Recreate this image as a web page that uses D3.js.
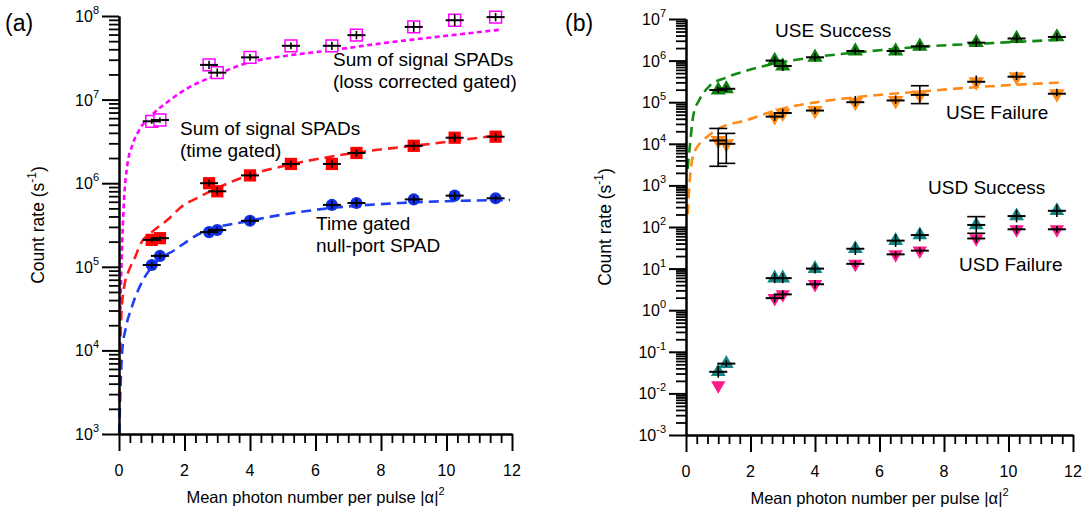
<!DOCTYPE html>
<html><head><meta charset="utf-8">
<script src="https://cdn.jsdelivr.net/npm/d3@7"></script>
<style>
body{margin:0;background:#fff}
svg{display:block}
text{font-family:"Liberation Sans",Arial,Helvetica,sans-serif;fill:#000}
</style>
</head><body>
<svg id="c" width="1088" height="516"></svg>
<script>
// ---------------- data ----------------
const xTickLabels = [0, 2, 4, 6, 8, 10, 12];
const yExpA = [3, 4, 5, 6, 7, 8];
const yExpB = [-3, -2, -1, 0, 1, 2, 3, 4, 5, 6, 7];

// panel (a)
const xA = [1.0, 1.25, 2.75, 3.0, 4.0, 5.25, 6.5, 7.25, 9.0, 10.25, 11.5];
const magentaVals = [5.5e6, 5.7e6, 2.6e7, 2.1e7, 3.2e7, 4.4e7, 4.4e7, 5.9e7, 7.4e7, 8.9e7, 9.7e7];
const magentaErr = [0.03, 0.03, 0.05, 0.05, 0.04, 0.04, 0.05, 0.05, 0.06, 0.07, 0.05];
const redVals = [2.1e5, 2.2e5, 1.0e6, 8.0e5, 1.24e6, 1.7e6, 1.7e6, 2.3e6, 2.8e6, 3.5e6, 3.6e6];
const redErr = [0.03, 0.03, 0.04, 0.05, 0.04, 0.04, 0.05, 0.04, 0.05, 0.05, 0.05];
const xBlue = [1.0, 1.25, 2.75, 3.0, 4.0, 6.5, 7.25, 9.0, 10.25, 11.5];
const blueVals = [1.05e5, 1.35e5, 2.6e5, 2.75e5, 3.55e5, 5.5e5, 5.8e5, 6.4e5, 7.1e5, 6.6e5];
const blueErr = [0.04, 0.04, 0.04, 0.04, 0.05, 0.05, 0.05, 0.05, 0.05, 0.04];

const magFitX = [0.04, 0.08, 0.15, 0.25, 0.4, 0.6, 1.0, 1.5, 2.0, 2.8, 4.0, 5.0, 6.5, 8.0, 10.0, 11.7];
const magFitY = [3e4, 1.2e5, 6e5, 1.6e6, 2.8e6, 4.2e6, 6.5e6, 9.5e6, 1.3e7, 1.85e7, 2.8e7, 3.3e7, 3.9e7, 4.7e7, 5.8e7, 6.9e7];
const redFitX = [0.01, 0.03, 0.08, 0.15, 0.3, 0.45, 0.7, 1.0, 1.5, 1.9, 2.5, 4.0, 5.2, 7.5, 9.0, 11.7];
const redFitY = [2.5e3, 8e3, 3e4, 5.5e4, 9e4, 1.2e5, 2e5, 2.6e5, 3.7e5, 5.2e5, 7e5, 1.26e6, 1.66e6, 2.4e6, 2.8e6, 3.8e6];
const blueFitX = [0.005, 0.05, 0.1, 0.2, 0.39, 0.74, 1.05, 1.71, 2.47, 4.0, 6.0, 8.6, 11.94];
const blueFitY = [1e3, 4e3, 1e4, 1.8e4, 3.3e4, 7e4, 1.05e5, 1.6e5, 2.5e5, 3.55e5, 4.8e5, 5.8e5, 6.3e5];

// panel (b)
const xB = [1.0, 1.25, 2.75, 3.0, 4.0, 5.25, 6.5, 7.25, 9.0, 10.25, 11.5];
const useSuccess = [1.96e5, 2.1e5, 1.0e6, 7.4e5, 1.2e6, 1.7e6, 1.7e6, 2.2e6, 2.7e6, 3.4e6, 3.7e6];
const useSuccessErr = [0.08, 0.08, 0.1, 0.12, 0.1, 0.08, 0.1, 0.1, 0.1, 0.1, 0.1];
const useFailure = [1.2e4, 1.0e4, 4.5e4, 5.5e4, 6.3e4, 1.0e5, 1.1e5, 1.5e5, 3.1e5, 4.1e5, 1.6e5];
const useFailureErrUp = [0.29, 0.25, 0.1, 0.1, 0.08, 0.15, 0.12, 0.22, 0.15, 0.12, 0.12];
const useFailureErrDn = [0.62, 0.47, 0.1, 0.1, 0.08, 0.1, 0.08, 0.21, 0.1, 0.08, 0.06];
const usdSuccess = [0.033, 0.052, 5.9, 5.9, 10, 30, 47, 64, 112, 183, 245];
const usdSuccessErr = [0.14, 0.08, 0.12, 0.12, 0.12, 0.15, 0.15, 0.15, 0.2, 0.15, 0.15];
const xUsdF = [1.0, 2.75, 3.0, 4.0, 5.25, 6.5, 7.25, 9.0, 10.25, 11.5];
const usdFailure = [0.0155, 1.95, 2.4, 4.2, 13, 22, 27, 53, 88, 88];
const usdFailureErr = [null, 0.1, 0.1, 0.1, 0.08, 0.08, 0.08, 0.1, 0.1, 0.08];

const greenFitX = [0.05, 0.12, 0.23, 0.43, 0.74, 1.2, 1.78, 2.76, 4.05, 5.4, 7.46, 9.32, 11.7];
const greenFitY = [2.5e3, 9e3, 5e4, 1.2e5, 2.5e5, 3.8e5, 5.4e5, 8.5e5, 1.23e6, 1.6e6, 2.2e6, 2.6e6, 3.2e6];
const orangeFitX = [0.05, 0.1, 0.2, 0.35, 0.53, 1.05, 1.88, 2.81, 4.05, 5.4, 7.26, 9.0, 11.7];
const orangeFitY = [2e2, 9e2, 4.5e3, 8.5e3, 1.2e4, 2.4e4, 3.7e4, 6.5e4, 1.0e5, 1.35e5, 1.8e5, 2.3e5, 3.0e5];

// ---------------- drawing ----------------
const svg = d3.select('#c');
const xMinorVals = d3.range(0, 37).filter(k => k % 6 !== 0).map(k => k / 3);

function minorLog(eMin, eMax) {
  const out = [];
  for (let e = eMin; e < eMax; e++) for (let k = 2; k <= 9; k++) out.push(k * Math.pow(10, e));
  return out;
}

function drawPanel(o) {
  const x = d3.scaleLinear().domain([0, 12]).range([o.x0, o.x1]);
  const y = d3.scaleLog().domain([Math.pow(10, o.eMin), Math.pow(10, o.eMax)]).range([o.y0, o.y1]);
  const g = svg.append('g');

  // fit curves
  o.fits.forEach(f => {
    const line = d3.line().x(d => x(d[0])).y(d => y(d[1])).curve(d3.curveMonotoneX);
    g.append('path').datum(d3.zip(f.x, f.y)).attr('d', line)
      .attr('fill', 'none').attr('stroke', f.color).attr('stroke-width', 2.6)
      .attr('stroke-dasharray', f.dash);
  });

  // symbols
  o.series.forEach(s => {
    const sym = d3.symbol().type(s.type).size(s.size);
    g.selectAll(null).data(d3.zip(s.x, s.y)).join('path')
      .attr('transform', d => `translate(${x(d[0])},${y(d[1])})` + (s.down ? ' rotate(180)' : ''))
      .attr('d', sym)
      .attr('fill', s.fill).attr('stroke', s.stroke || 'none').attr('stroke-width', s.sw || 0);
  });

  // black error bars
  o.series.forEach(s => {
    s.x.forEach((xv, i) => {
      const v = s.y[i];
      const up = s.errUp ? s.errUp[i] : s.err[i];
      const dn = s.errDn ? s.errDn[i] : s.err[i];
      if (up == null || dn == null) return;
      const px = x(xv), py = y(v);
      const pHi = y(v * Math.pow(10, up)), pLo = y(v / Math.pow(10, dn));
      g.append('line').attr('x1', px).attr('x2', px).attr('y1', pHi).attr('y2', pLo)
        .attr('stroke', '#000').attr('stroke-width', 1.6);
      g.append('line').attr('x1', px - 9).attr('x2', px + 9).attr('y1', py).attr('y2', py)
        .attr('stroke', '#000').attr('stroke-width', 2);
      if (pLo - pHi > 14) {
        [pHi, pLo].forEach(pp => g.append('line').attr('x1', px - 9).attr('x2', px + 9)
          .attr('y1', pp).attr('y2', pp).attr('stroke', '#000').attr('stroke-width', 1.6));
      }
    });
  });

  // axes
  const styleAxis = (sel, w) => {
    sel.select('.domain').attr('stroke', '#000').attr('stroke-width', 2);
    sel.selectAll('.tick line').attr('stroke', '#000').attr('stroke-width', w);
  };
  const gxm = g.append('g').attr('transform', `translate(0,${o.y0})`)
    .call(d3.axisBottom(x).tickValues(xMinorVals).tickSize(9).tickSizeOuter(0).tickFormat(''));
  styleAxis(gxm, 1.8);
  const gxM = g.append('g').attr('transform', `translate(0,${o.y0})`)
    .call(d3.axisBottom(x).tickValues(xTickLabels).tickSize(17).tickSizeOuter(0).tickFormat(''));
  styleAxis(gxM, 2);
  const gym = g.append('g').attr('transform', `translate(${o.x0},0)`)
    .call(d3.axisLeft(y).tickValues(minorLog(o.eMin, o.eMax)).tickSize(10).tickSizeOuter(0).tickFormat(''));
  styleAxis(gym, 1.8);
  const majors = o.exps.map(e => Math.pow(10, e));
  const gyM = g.append('g').attr('transform', `translate(${o.x0},0)`)
    .call(d3.axisLeft(y).tickValues(majors).tickSize(17).tickSizeOuter(0).tickFormat(''));
  styleAxis(gyM, 2);

  // tick labels
  g.selectAll(null).data(xTickLabels).join('text')
    .attr('x', d => x(d)).attr('y', o.y0 + 42).attr('text-anchor', 'middle')
    .attr('font-size', 16).text(d => d);
  g.selectAll(null).data(o.exps).join('text')
    .attr('x', o.x0 - 20).attr('y', e => y(Math.pow(10, e)) + 6).attr('text-anchor', 'end')
    .attr('font-size', 16)
    .each(function (e) {
      const t = d3.select(this);
      t.append('tspan').text('10');
      t.append('tspan').attr('font-size', 11).attr('dy', -8).text(e < 0 ? '-' + (-e) : e);
    });

  // axis titles
  const xt = g.append('text').attr('x', (o.x0 + o.x1) / 2).attr('y', o.y0 + 69)
    .attr('text-anchor', 'middle').attr('font-size', 16.5);
  xt.append('tspan').text('Mean photon number per pulse |\u03b1|');
  xt.append('tspan').attr('font-size', 11).attr('dy', -8).text('2');
  const yt = g.append('text')
    .attr('transform', `translate(${o.ytx},${(o.y0 + o.y1) / 2}) rotate(-90)`)
    .attr('text-anchor', 'middle').attr('font-size', 17.5);
  yt.append('tspan').text('Count rate (s');
  yt.append('tspan').attr('font-size', 12).attr('dy', -8).text('-1');
  yt.append('tspan').attr('dy', 8).text(')');

  // panel label
  g.append('text').attr('x', o.lx).attr('y', 31).attr('font-size', 23).text(o.label);

  // annotations
  o.notes.forEach(n => {
    n.lines.forEach((ln, i) => g.append('text').attr('x', n.x).attr('y', n.y + i * 21.5)
      .attr('font-size', 19).text(ln));
  });
}

drawPanel({
  x0: 119, x1: 512, y0: 434, y1: 16, eMin: 3, eMax: 8, exps: yExpA, ytx: 44, lx: 5, label: '(a)',
  fits: [
    { x: magFitX, y: magFitY, color: '#ff00ff', dash: '5,3.5' },
    { x: redFitX, y: redFitY, color: '#ff1a1a', dash: '10,6' },
    { x: blueFitX, y: blueFitY, color: '#1f3ff0', dash: '10,6' }
  ],
  series: [
    { x: xA, y: magentaVals, err: magentaErr, type: d3.symbolSquare, size: 140, fill: '#fff', stroke: '#ff00ff', sw: 1.5 },
    { x: xA, y: redVals, err: redErr, type: d3.symbolSquare, size: 150, fill: '#ff0000' },
    { x: xBlue, y: blueVals, err: blueErr, type: d3.symbolCircle, size: 115, fill: '#1030e8' }
  ],
  notes: [
    { x: 333, y: 66, lines: ['Sum of signal SPADs', '(loss corrected gated)'] },
    { x: 180, y: 135, lines: ['Sum of signal SPADs', '(time gated)'] },
    { x: 316, y: 230, lines: ['Time gated', 'null-port SPAD'] }
  ]
});

drawPanel({
  x0: 686, x1: 1073, y0: 435, y1: 19, eMin: -3, eMax: 7, exps: yExpB, ytx: 611, lx: 565, label: '(b)',
  fits: [
    { x: greenFitX, y: greenFitY, color: '#138a13', dash: '10,6' },
    { x: orangeFitX, y: orangeFitY, color: '#ff8c1a', dash: '10,6' }
  ],
  series: [
    { x: xB, y: useSuccess, err: useSuccessErr, type: d3.symbolTriangle, size: 100, fill: '#0f7f0f' },
    { x: xB, y: useFailure, errUp: useFailureErrUp, errDn: useFailureErrDn, type: d3.symbolTriangle, size: 105, fill: '#ff8c1a', down: true },
    { x: xB, y: usdSuccess, err: usdSuccessErr, type: d3.symbolTriangle, size: 95, fill: '#138585' },
    { x: xUsdF, y: usdFailure, err: usdFailureErr, type: d3.symbolTriangle, size: 90, fill: '#ff1a8c', down: true }
  ],
  notes: [
    { x: 775, y: 37, lines: ['USE Success'] },
    { x: 946, y: 119, lines: ['USE Failure'] },
    { x: 928, y: 194, lines: ['USD Success'] },
    { x: 959, y: 271, lines: ['USD Failure'] }
  ]
});
</script>
</body></html>
